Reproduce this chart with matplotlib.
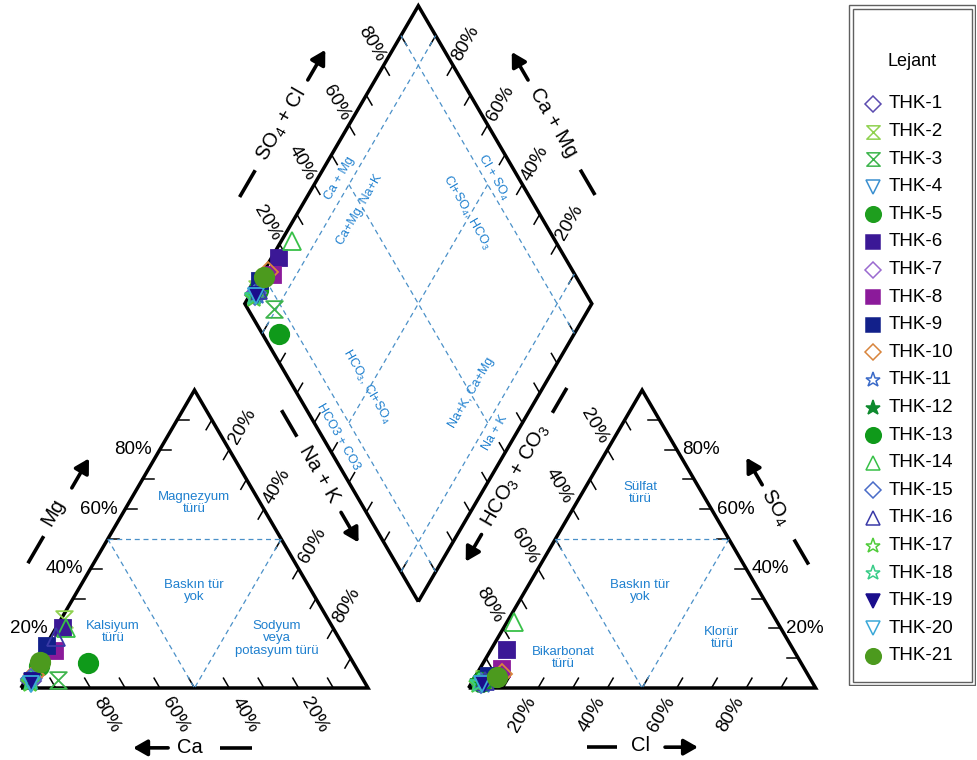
import numpy as np
import matplotlib
matplotlib.use('Agg')
import matplotlib.pyplot as plt
from matplotlib.path import Path
from matplotlib.patches import Rectangle

plt.rcParams['font.family'] = ['Liberation Sans', 'DejaVu Sans']
plt.rcParams['mathtext.fontset'] = 'custom'
plt.rcParams['mathtext.rm'] = 'Liberation Sans'
plt.rcParams['mathtext.it'] = 'Liberation Sans:italic'
plt.rcParams['mathtext.default'] = 'regular'

# --- data (% meq) ---
samples = ['THK-%d' % i for i in range(1, 22)]
ca   = [96.0, 76.0, 88.0, 96.5, 91.0, 78.0, 95.0, 84.0, 85.5, 94.0, 96.0,
        96.5, 76.5, 77.0, 95.5, 81.5, 96.5, 96.0, 95.5, 96.5, 90.2]
mg   = [2.5, 23.0, 2.6, 1.5, 7.5, 20.0, 3.5, 12.5, 14.0, 4.5, 2.0,
        2.0, 8.5, 20.0, 3.0, 17.0, 1.8, 2.5, 2.5, 1.5, 8.7]
nak  = [1.5, 1.0, 9.4, 2.0, 1.5, 2.0, 1.5, 3.5, 0.5, 1.5, 2.0,
        1.5, 15.0, 3.0, 1.5, 1.5, 1.7, 1.5, 2.0, 2.0, 1.1]
hco3 = [95.0, 94.0, 92.3, 95.5, 94.0, 82.5, 95.0, 87.0, 92.0, 88.0, 95.0,
        96.0, 95.3, 76.0, 95.5, 94.0, 96.5, 96.0, 95.0, 95.5, 90.0]
so4  = [2.0, 3.0, 3.5, 1.5, 3.0, 12.8, 2.5, 6.5, 4.0, 4.6, 1.5,
        2.0, 2.0, 22.0, 1.8, 2.5, 1.5, 1.8, 1.2, 1.5, 3.7]
cl   = [3.0, 3.0, 4.2, 3.0, 3.0, 4.7, 2.5, 6.5, 4.0, 7.4, 3.5,
        2.0, 2.7, 2.0, 2.7, 3.5, 2.0, 2.2, 3.8, 3.0, 6.3]

hourglass = Path([(-1, 1), (1, 1), (-1, -1), (1, -1), (-1, 1)],
                 [Path.MOVETO, Path.LINETO, Path.LINETO, Path.LINETO, Path.CLOSEPOLY])

markers = ['D', hourglass, hourglass, 'v', 'o', 's', 'D', 's', 's', 'D', '*',
           '*', 'o', '^', 'D', '^', '*', '*', 'v', 'v', 'o']
colors = ['#5b4bb0', '#8fd14f', '#3cb44b', '#3a8fd0', '#1e9e1e', '#3b1896', '#9a6ad0',
          '#8b1a9a', '#12208a', '#d8843c', '#3a6ac8', '#0e8a2e', '#0f9a1a', '#38c048',
          '#4a6cc8', '#3a3aa8', '#50cc3a', '#38cc88', '#1a0e8c', '#3aa8d8', '#4c9a1e']
filled = [False, False, False, False, True, True, False, True, True, False, False,
          True, True, False, False, False, False, False, True, False, True]
msize = [10, 12, 12, 12, 14, 12, 10, 12, 12, 10, 14, 14, 14, 13, 10, 13, 14, 14, 12, 12, 14]

# --- geometry ---
GAP = 29.0
H = np.sqrt(3) / 2
BX = 100 + GAP / 2
BY = GAP / 2 * np.sqrt(3)
AX0 = 100 + GAP


def cat_xy(na, m):
    return na + m / 2.0, m * H


def an_xy(c, s):
    return AX0 + c + s / 2.0, s * H


def dia_xy(cm, sc):
    return BX + 0.5 * (sc - cm), BY + H * (sc + cm)


fig = plt.figure(figsize=(9.77, 7.6), dpi=100)
ax = fig.add_axes([0, 0, 1, 1])
SX, SY = 3.47, 3.44
ax.set_xlim(-21 / SX, (977 - 21) / SX)
ax.set_ylim((688 - 760) / SY, 688 / SY)
ax.axis('off')

EDGE = dict(color='k', lw=2.5, solid_joinstyle='miter', solid_capstyle='butt')
DASH = dict(color='#4a90c8', lw=0.9, ls=(0, (4, 3)))
BLUE = '#1f80cf'

# outlines
for fn, corners in [(cat_xy, [(0, 0), (100, 0), (0, 100), (0, 0)]),
                    (an_xy, [(0, 0), (100, 0), (0, 100), (0, 0)]),
                    (dia_xy, [(0, 0), (100, 0), (100, 100), (0, 100), (0, 0)])]:
    pts = np.array([fn(*c) for c in corners])
    ax.plot(pts[:, 0], pts[:, 1], **EDGE)


def ticks(fn, d, L=3.3):
    for v in range(10, 100, 10):
        x, y = fn(v)
        ax.plot([x, x + d[0] * L], [y, y + d[1] * L], color='k', lw=1.1)


ticks(lambda v: cat_xy(100 - v, 0), (-0.5, H))
ticks(lambda v: cat_xy(0, v), (1, 0))
ticks(lambda v: cat_xy(v, 100 - v), (-0.5, -H))
ticks(lambda v: an_xy(v, 0), (0.5, H))
ticks(lambda v: an_xy(100 - v, v), (-1, 0))
ticks(lambda v: an_xy(0, 100 - v), (0.5, -H))
ticks(lambda v: dia_xy(100, v), (0.5, -H))
ticks(lambda v: dia_xy(v, 100), (-0.5, -H))
ticks(lambda v: dia_xy(v, 0), (0.5, H))
ticks(lambda v: dia_xy(0, v), (-0.5, H))

# dashed subdivisions
for fn in (cat_xy, an_xy):
    for a, b in [((0, 50), (50, 50)), ((0, 50), (50, 0)), ((50, 50), (50, 0))]:
        p, q = fn(*a), fn(*b)
        ax.plot([p[0], q[0]], [p[1], q[1]], **DASH)
for a, b in [((90, 0), (90, 100)), ((10, 0), (10, 100)), ((0, 90), (100, 90)),
             ((0, 10), (100, 10)), ((90, 50), (10, 50)), ((50, 90), (50, 10))]:
    p, q = dia_xy(*a), dia_xy(*b)
    ax.plot([p[0], q[0]], [p[1], q[1]], **DASH)

# tick labels
TL = dict(fontsize=13.5, color='k')
for v in (20, 40, 60, 80):
    x, y = cat_xy(0, v)
    ax.text(x - 2.2, y, '%d%%' % v, ha='right', va='center', **TL)
    x, y = cat_xy(100 - v, 0)
    ax.text(x + 0.5 * 9, y - H * 9, '%d%%' % v, ha='center', va='center', rotation=-60, **TL)
    x, y = cat_xy(v, 100 - v)
    ax.text(x + 0.5 * 7.8, y + H * 7.8, '%d%%' % v, ha='center', va='center', rotation=60, **TL)
    x, y = an_xy(v, 0)
    ax.text(x - 0.5 * 9, y - H * 9, '%d%%' % v, ha='center', va='center', rotation=60, **TL)
    x, y = an_xy(100 - v, v)
    ax.text(x + 1.5, y, '%d%%' % v, ha='left', va='center', **TL)
    x, y = an_xy(0, 100 - v)
    ax.text(x - 0.5 * 7.8, y + H * 7.8, '%d%%' % v, ha='center', va='center', rotation=-60, **TL)
    x, y = dia_xy(100, v)
    ax.text(x - 0.5 * 7.2, y + H * 7.2, '%d%%' % v, ha='center', va='center', rotation=-60, **TL)
    x, y = dia_xy(v, 100)
    ax.text(x + 0.5 * 7.2, y + H * 7.2, '%d%%' % v, ha='center', va='center', rotation=60, **TL)


# axis titles with dash + arrow
def edge_title(p0, d, n, off, t_text, text, rot, dash, arrow, toff=None):
    p0, d, n = np.array(p0), np.array(d), np.array(n)
    base = p0 + n * off
    tb = p0 + n * (toff if toff is not None else off)
    tx = tb + d * t_text
    ax.text(tx[0], tx[1], text, rotation=rot, ha='center', va='center',
            fontsize=14.5, rotation_mode='anchor')
    a, b = base + d * dash[0], base + d * dash[1]
    ax.plot([a[0], b[0]], [a[1], b[1]], color='k', lw=2.6, solid_capstyle='butt')
    a, b = base + d * arrow[0], base + d * arrow[1]
    ax.annotate('', xy=b, xytext=a,
                arrowprops=dict(arrowstyle='-|>,head_length=0.7,head_width=0.4', lw=2.6,
                                color='k', shrinkA=0, shrinkB=0, mutation_scale=12))


edge_title((0, 0), (0.5, H), (-H, 0.5), 16.4, 48.9, 'Mg', 60, (32.4, 41.5), (57.7, 67.6), 17.6)
edge_title((0, 0), (1, 0), (0, -1), 17.4, 48.7, 'Ca', 0, (57.3, 66.6), (42.4, 32.3))
edge_title((50, 100 * H), (0.5, -H), (H, 0.5), 18.8, 39.2, 'Na + K', -60, (17.6, 26.5), (51.9, 62.0))
edge_title(dia_xy(100, 0), (0.5, H), (-H, 0.5), 16.8, 50.4, 'SO$_4$ + Cl', 60, (26.1, 35.1), (65.4, 75.5))
edge_title(dia_xy(0, 100), (-0.5, H), (H, 0.5), 16.6, 51.1, 'Ca + Mg', -60, (26.9, 35.4), (65.5, 74.9))
edge_title(an_xy(0, 100), (-0.5, -H), (-H, 0.5), 19.1, 39.7, 'HCO$_3$ + CO$_3$', 60, (10.3, 18.65), (59.5, 68.6))
edge_title(an_xy(100, 0), (-0.5, H), (H, 0.5), 16.2, 51.4, 'SO$_4$', -60, (32.1, 40.5), (58.85, 67.95))
edge_title((AX0, 0), (1, 0), (0, -1), 17.2, 49.4, 'Cl', 0, (34.1, 42.8), (56.6, 66.1), 16.6)

# region labels
RL = dict(fontsize=9.5, color=BLUE, ha='center', va='center', linespacing=1.05)
ax.text(49.9, 53.8, 'Magnezyum\ntürü', **RL)
ax.text(49.9, 28.2, 'Baskın tür\nyok', **RL)
ax.text(26.5, 16.3, 'Kalsiyum\ntürü', **RL)
ax.text(73.8, 14.5, 'Sodyum\nveya\npotasyum türü', **RL)
ax.text(AX0 + 49.4, 56.7, 'Sülfat\ntürü', **RL)
ax.text(AX0 + 49.4, 28.2, 'Baskın tür\nyok', **RL)
ax.text(AX0 + 27.2, 8.7, 'Bikarbonat\ntürü', **RL)
ax.text(AX0 + 73.0, 14.5, 'Klorür\ntürü', **RL)

DL = dict(fontsize=9, color=BLUE, ha='center', va='center')
for cm, sc, txt, rot in [(93.5, 48.5, 'Ca + Mg', 60),
                         (82.6, 49.0, 'Ca+Mg, Na+K', 60),
                         (49.8, 92.8, 'Cl + SO$_4$', -60),
                         (51.3, 79.3, 'Cl+SO$_4$, HCO$_3$', -60),
                         (50.9, 21.3, 'HCO$_3$, Cl+SO$_4$', -60),
                         (50.8, 4.6, 'HCO3 + CO3', -60),
                         (19.6, 50.6, 'Na+K, Ca+Mg', 60),
                         (6.2, 50.4, 'Na + K', 60)]:
    x, y = dia_xy(cm, sc)
    ax.text(x, y, txt, rotation=rot, **DL)

# samples
for i in range(len(samples)):
    cx, cy = cat_xy(nak[i], mg[i])
    axx, ayy = an_xy(cl[i], so4[i])
    dx, dy = dia_xy(100 - nak[i], so4[i] + cl[i])
    ax.plot([cx, axx, dx], [cy, ayy, dy], ls='none', marker=markers[i], ms=msize[i],
            mfc=colors[i] if filled[i] else 'none', mec=colors[i], mew=1.3)

# legend
lax = fig.add_axes([848 / 977, (760 - 686) / 760, 128 / 977, 682 / 760])
lax.set_xlim(0, 128)
lax.set_ylim(682, 0)
lax.axis('off')
lax.add_patch(Rectangle((0.8, 0.8), 126.4, 680.4, fill=False, ec='#606060', lw=1.0))
lax.add_patch(Rectangle((4.5, 4.5), 119, 673, fill=False, ec='#606060', lw=1.0))
lax.text(64, 57, 'Lejant', ha='center', va='center', fontsize=13)
for i, name in enumerate(samples):
    y = 100 + i * 27.6
    lax.plot([25], [y], ls='none', marker=markers[i], ms=msize[i] * 0.8,
             mfc=colors[i] if filled[i] else 'none', mec=colors[i], mew=1.1)
    lax.text(41, y, name, ha='left', va='center', fontsize=13.5)

fig.savefig('out.png', dpi=100)
